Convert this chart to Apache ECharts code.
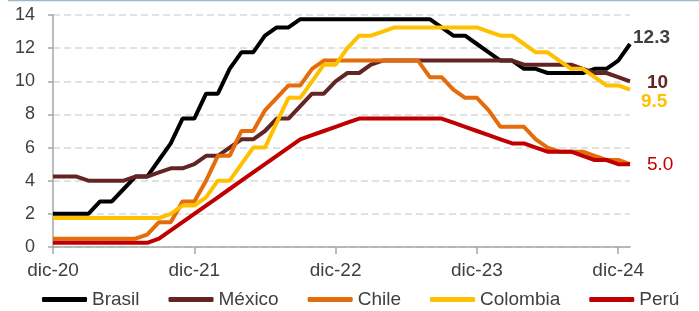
<!DOCTYPE html>
<html>
<head>
<meta charset="utf-8">
<script src="https://cdn.jsdelivr.net/npm/echarts@6/dist/echarts.min.js"></script>
<style>
  html, body { margin: 0; padding: 0; background: #fff; }
  #main { width: 699px; height: 311px; }
</style>
</head>
<body>
<div id="main"></div>
<script>
// meses (dic-20 .. ene-25)
var meses = ['dic-20',
  'ene-21','feb-21','mar-21','abr-21','may-21','jun-21','jul-21','ago-21','sep-21','oct-21','nov-21','dic-21',
  'ene-22','feb-22','mar-22','abr-22','may-22','jun-22','jul-22','ago-22','sep-22','oct-22','nov-22','dic-22',
  'ene-23','feb-23','mar-23','abr-23','may-23','jun-23','jul-23','ago-23','sep-23','oct-23','nov-23','dic-23',
  'ene-24','feb-24','mar-24','abr-24','may-24','jun-24','jul-24','ago-24','sep-24','oct-24','nov-24','dic-24',
  'ene-25'];

// tasas de politica monetaria (%)
var brasil = [2, 2, 2, 2, 2.75, 2.75, 3.5, 4.25, 4.25, 5.25, 6.25, 7.75, 7.75,
  9.25, 9.25, 10.75, 11.75, 11.75, 12.75, 13.25, 13.25, 13.75, 13.75, 13.75, 13.75,
  13.75, 13.75, 13.75, 13.75, 13.75, 13.75, 13.75, 13.75, 13.25, 12.75, 12.75, 12.25,
  11.75, 11.25, 11.25, 10.75, 10.75, 10.5, 10.5, 10.5, 10.5, 10.75, 10.75, 11.25,
  12.25];
var mexico = [4.25, 4.25, 4.25, 4, 4, 4, 4, 4.25, 4.25, 4.5, 4.75, 4.75, 5,
  5.5, 5.5, 6, 6.5, 6.5, 7, 7.75, 7.75, 8.5, 9.25, 9.25, 10,
  10.5, 10.5, 11, 11.25, 11.25, 11.25, 11.25, 11.25, 11.25, 11.25, 11.25, 11.25,
  11.25, 11.25, 11.25, 11, 11, 11, 11, 11, 10.75, 10.5, 10.5, 10.25,
  10];
var chile = [0.5, 0.5, 0.5, 0.5, 0.5, 0.5, 0.5, 0.5, 0.75, 1.5, 1.5, 2.75, 2.75,
  4, 5.5, 5.5, 7, 7, 8.25, 9, 9.75, 9.75, 10.75, 11.25, 11.25,
  11.25, 11.25, 11.25, 11.25, 11.25, 11.25, 11.25, 10.25, 10.25, 9.5, 9, 9,
  8.25, 7.25, 7.25, 7.25, 6.5, 6, 5.75, 5.75, 5.75, 5.5, 5.25, 5.25,
  5];
var colombia = [1.75, 1.75, 1.75, 1.75, 1.75, 1.75, 1.75, 1.75, 1.75, 1.75, 2, 2.5, 2.5,
  3, 4, 4, 5, 6, 6, 7.5, 9, 9, 10, 11, 11,
  12, 12.75, 12.75, 13, 13.25, 13.25, 13.25, 13.25, 13.25, 13.25, 13.25, 13.25,
  13, 12.75, 12.75, 12.25, 11.75, 11.75, 11.25, 10.75, 10.75, 10.25, 9.75, 9.75,
  9.5];
var peru = [0.25, 0.25, 0.25, 0.25, 0.25, 0.25, 0.25, 0.25, 0.25, 0.5, 1, 1.5, 2,
  2.5, 3, 3.5, 4, 4.5, 5, 5.5, 6, 6.5, 6.75, 7, 7.25,
  7.5, 7.75, 7.75, 7.75, 7.75, 7.75, 7.75, 7.75, 7.75, 7.5, 7.25, 7, 
  6.75, 6.5, 6.25, 6.25, 6, 5.75, 5.75, 5.75, 5.5, 5.25, 5.25, 5,
  5];

var nombres = ['Brasil', 'México', 'Chile', 'Colombia', 'Perú'];
var colores = ['#000000', '#632523', '#E46C0A', '#FFC000', '#C00000'];
// etiquetas al final de cada linea (Chile no lleva)
var etiquetas = ['12.3', '10', null, '9.5', '5.0'];
var colorEtiqueta = ['#404040', '#632523', null, '#FFC000', '#C00000'];
var negrita = ['bold', 'bold', null, 'bold', 'normal'];
var desplaz = [[3, -6], [17, 1], null, [11, 12], [17, 1]];

var fuente = 'Liberation Sans, Arial, sans-serif';
var datos = [brasil, mexico, chile, colombia, peru];

var series = [];
for (var i = 0; i < nombres.length; i++) {
  var s = {
    name: nombres[i],
    type: 'line',
    data: datos[i],
    symbol: 'none',
    lineStyle: { width: 4, color: colores[i] },
    itemStyle: { color: colores[i] }
  };
  if (etiquetas[i]) {
    (function (txt) {
      s.endLabel = {
        show: true,
        formatter: function () { return txt; },
        color: colorEtiqueta[i],
        fontWeight: negrita[i],
        fontSize: 19,
        fontFamily: fuente,
        distance: 0,
        offset: desplaz[i],
        align: 'left',
        verticalAlign: 'middle'
      };
    })(etiquetas[i]);
  }
  series.push(s);
}

var myChart = echarts.init(document.getElementById('main'));
var option = {
  animation: false,
  backgroundColor: '#ffffff',
  graphic: [{
    type: 'line',
    shape: { x1: 8, y1: 0.5, x2: 699, y2: 0.5 },
    style: { stroke: '#9DB8C6', lineWidth: 1.5 }
  }],
  grid: {
    left: 53,
    right: 69,
    top: 15,
    bottom: 64,
    containLabel: false,
    outerBoundsMode: 'none'
  },
  legend: {
    data: nombres,
    left: 42,
    top: 290,
    padding: 0,
    icon: 'roundRect',
    itemWidth: 45,
    itemHeight: 5,
    itemGap: 29,
    textStyle: { fontSize: 19, color: '#404040', fontFamily: fuente }
  },
  xAxis: {
    type: 'category',
    data: meses,
    boundaryGap: false,
    axisLine: { lineStyle: { color: '#A6A6A6', width: 1.5 } },
    axisTick: {
      interval: function (idx) { return idx % 12 === 0; },
      length: 7,
      lineStyle: { color: '#A6A6A6', width: 1.5 }
    },
    axisLabel: {
      interval: function (idx) { return idx % 12 === 0; },
      margin: 14,
      fontSize: 19,
      color: '#404040',
      fontFamily: fuente
    },
    splitLine: { show: false }
  },
  yAxis: {
    type: 'value',
    min: 0,
    max: 14,
    interval: 2,
    axisLine: { show: true, lineStyle: { color: '#A6A6A6', width: 1.5 } },
    axisTick: { show: true, length: 5, lineStyle: { color: '#A6A6A6', width: 1.5 } },
    axisLabel: {
      margin: 18,
      fontSize: 18,
      color: '#404040',
      fontFamily: fuente
    },
    splitLine: {
      show: true,
      lineStyle: { color: '#D9D9D9', width: 1.5, type: [7, 4] }
    }
  },
  series: series
};
myChart.setOption(option);
</script>
</body>
</html>
